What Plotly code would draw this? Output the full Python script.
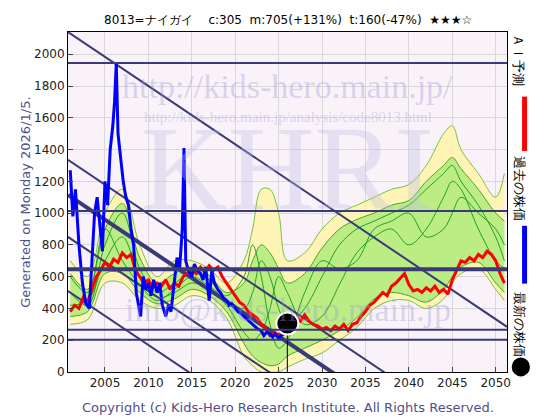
import plotly.graph_objects as go

# past price (blue)
past_years = [2001.0, 2001.3, 2001.6, 2002.0, 2002.4, 2002.8, 2003.2, 2003.5, 2003.8, 2004.1, 2004.4, 2004.7,
              2005.0, 2005.3, 2005.6, 2005.9, 2006.1, 2006.3, 2006.5, 2006.8, 2007.1, 2007.4, 2007.7, 2008.0,
              2008.3, 2008.6, 2008.9, 2009.1, 2009.4, 2009.7, 2010.0, 2010.3, 2010.6, 2011.0, 2011.3, 2011.6,
              2012.0, 2012.3, 2012.6, 2013.0, 2013.3, 2013.6, 2013.9, 2014.1, 2014.3, 2014.6, 2015.0, 2015.3,
              2015.6, 2016.0, 2016.3, 2016.6, 2017.0, 2017.3, 2017.6, 2018.0, 2018.3, 2018.6, 2019.0, 2019.3,
              2019.6, 2020.0, 2020.3, 2020.6, 2021.0, 2021.3, 2021.6, 2022.0, 2022.3, 2022.6, 2023.0, 2023.3,
              2023.6, 2024.0, 2024.3, 2024.6, 2025.0, 2025.3, 2025.6]
past_price = [1270, 980, 1150, 800, 560, 430, 400, 700, 1000, 1100, 950, 760,
              1200, 1050, 1400, 1550, 1700, 1940, 1500, 1350, 1200, 1100, 1050, 900,
              800, 500, 420, 350, 600, 520, 560, 480, 580, 500, 560, 420,
              350, 420, 380, 600, 720, 650, 900, 1410, 700, 640, 600, 680,
              640, 620, 580, 660, 450, 640, 560, 520, 500, 470, 450, 420,
              430, 400, 380, 370, 350, 340, 320, 300, 290, 270, 260, 230,
              250, 240, 220, 240, 210, 230, 240]

latest_year = [2026.0]
latest_price = [305]

# AI forecast (red)
ai_years = [2001, 2001.5, 2002, 2002.5, 2003, 2003.5, 2004, 2004.5, 2005, 2005.5, 2006, 2006.5, 2007, 2007.5,
            2008, 2008.5, 2009, 2009.5, 2010, 2010.5, 2011, 2011.5, 2012, 2012.5, 2013, 2013.5, 2014, 2014.5,
            2015, 2015.5, 2016, 2016.5, 2017, 2017.5, 2018, 2018.5, 2019, 2019.5, 2020, 2020.5, 2021, 2021.5,
            2022, 2022.5, 2023, 2023.5, 2024, 2024.5, 2025, 2025.5, 2026, 2026.5, 2027, 2027.5, 2028, 2028.5,
            2029, 2029.5, 2030, 2030.5, 2031, 2031.5, 2032, 2032.5, 2033, 2033.5, 2034, 2034.5, 2035, 2035.5,
            2036, 2036.5, 2037, 2037.5, 2038, 2038.5, 2039, 2039.5, 2040, 2040.5, 2041, 2041.5, 2042, 2042.5,
            2043, 2043.5, 2044, 2044.5, 2045, 2045.5, 2046, 2046.5, 2047, 2047.5, 2048, 2048.5, 2049, 2049.5,
            2050, 2050.5, 2051]
ai_price = [380, 420, 400, 470, 440, 520, 600, 640, 690, 660, 710, 690, 750, 720, 740, 640, 600, 560, 580, 530,
            560, 540, 580, 520, 560, 540, 600, 620, 650, 620, 660, 630, 670, 640, 660, 600, 560, 520, 480, 440,
            420, 380, 360, 340, 300, 280, 230, 250, 230, 270, 290, 330, 350, 320, 360, 320, 300, 290, 270, 280,
            260, 290, 270, 300, 260, 300, 310, 350, 380, 420, 440, 470, 500, 480, 540, 560, 590, 620, 550, 510,
            520, 500, 530, 510, 540, 500, 520, 490, 580, 640, 700, 690, 720, 700, 740, 720, 760, 740, 700, 620, 560]

# prediction bands
band_years = [2001, 2003, 2005, 2007, 2009, 2011, 2013, 2015, 2017, 2019, 2021, 2022, 2023, 2024, 2025, 2026,
              2028, 2030, 2032, 2034, 2036, 2038, 2040, 2042, 2044, 2045, 2046, 2048, 2050, 2051]
outer_hi = [700, 600, 1000, 1150, 800, 600, 700, 700, 650, 560, 700, 900, 1150, 1150, 1000, 700,
            750, 900, 1000, 1050, 1100, 1150, 1180, 1300, 1500, 1550, 1400, 1250, 1100, 1250]
outer_lo = [300, 330, 560, 560, 450, 400, 420, 480, 450, 340, 100, 40, 0, 0, 0, 30,
            80, 120, 200, 280, 400, 450, 450, 400, 460, 560, 620, 650, 520, 450]
inner_hi = [620, 520, 900, 1060, 720, 560, 620, 660, 610, 500, 560, 700, 800, 750, 650, 560,
            620, 780, 900, 960, 1000, 1050, 1080, 1200, 1300, 1350, 1280, 1150, 1000, 950]
inner_lo = [350, 380, 620, 620, 500, 430, 460, 520, 480, 380, 180, 100, 60, 40, 50, 100,
            150, 200, 260, 340, 460, 500, 480, 440, 520, 600, 660, 690, 560, 500]
green_a = [500, 420, 800, 1000, 650, 500, 560, 620, 580, 450, 400, 500, 700, 600, 400, 300,
           400, 600, 800, 900, 950, 1000, 1050, 1150, 1250, 1300, 1200, 1050, 850, 700]
green_b = [420, 450, 700, 850, 600, 470, 500, 560, 520, 420, 250, 200, 250, 400, 600, 500,
           300, 350, 550, 750, 850, 900, 800, 900, 1100, 1200, 1150, 900, 700, 650]
green_c = [600, 500, 900, 700, 550, 450, 520, 600, 540, 480, 600, 800, 600, 300, 150, 200,
           500, 700, 650, 700, 900, 950, 1000, 850, 900, 1000, 1100, 1000, 900, 800]

# trend lines
hlines = [1945, 1013, 646, 266, 203]
hline_widths = [2, 2, 4, 2, 2]
diag_start = [2140, 1335, 1115, 850, 510]
diag_widths = [2, 2, 4, 2, 2]
diag_slope = -36.7

x0, x1 = 2000.74, 2051.3
fig = go.Figure()
navy = "#3a3a78"
for v, w in zip(hlines, hline_widths):
    fig.add_hline(y=v, line=dict(color=navy, width=w))

fig.add_trace(go.Scatter(x=band_years, y=outer_hi, mode="lines", line=dict(color="#7bc043", width=1, shape="spline")))
fig.add_trace(go.Scatter(x=band_years, y=outer_lo, mode="lines", fill="tonexty", fillcolor="rgba(255,245,170,0.85)",
                         line=dict(color="#7bc043", width=1, shape="spline")))
fig.add_trace(go.Scatter(x=band_years, y=inner_hi, mode="lines", line=dict(color="#44aa22", width=1, shape="spline")))
fig.add_trace(go.Scatter(x=band_years, y=inner_lo, mode="lines", fill="tonexty", fillcolor="rgba(170,235,120,0.8)",
                         line=dict(color="#44aa22", width=1, shape="spline")))
for g in (green_a, green_b, green_c):
    fig.add_trace(go.Scatter(x=band_years, y=g, mode="lines", line=dict(color="#22a022", width=1, shape="spline")))

for b, w in zip(diag_start, diag_widths):
    fig.add_trace(go.Scatter(x=[x0, x1], y=[b, b + diag_slope * (x1 - x0)], mode="lines",
                             line=dict(color=navy, width=w)))

fig.add_trace(go.Scatter(x=ai_years, y=ai_price, mode="lines", line=dict(color="#ff0000", width=3)))
fig.add_trace(go.Scatter(x=past_years, y=past_price, mode="lines", line=dict(color="#0000ff", width=3)))
fig.add_trace(go.Scatter(x=latest_year * 2, y=[0, latest_price[0]], mode="lines", line=dict(color="black", width=1)))
fig.add_trace(go.Scatter(x=latest_year, y=latest_price, mode="markers",
                         marker=dict(color="black", size=22, line=dict(color="white", width=2))))

wm = "rgba(150,150,220,0.35)"
ann = [
    dict(text="KHRI", x=0.5, y=0.6, font=dict(size=120, color="rgba(190,190,230,0.35)", family="Liberation Serif")),
    dict(text="http://kids-hero.main.jp/", x=0.5, y=0.9, font=dict(size=34, color=wm, family="Liberation Serif")),
    dict(text="http://kids-hero.main.jp/analysis/code8013.html", x=0.5, y=0.78,
         font=dict(size=15, color=wm, family="Liberation Serif")),
    dict(text="info@kids-hero.main.jp", x=0.5, y=0.12, font=dict(size=34, color=wm, family="Liberation Serif")),
]
annotations = [dict(a, xref="paper", yref="paper", showarrow=False) for a in ann]
annotations += [
    dict(text="8013=ナイガイ　 c:305  m:705(+131%)  t:160(-47%)  ★★★☆", xref="paper", yref="paper",
         x=0.5, y=1.01, yanchor="bottom", showarrow=False, font=dict(size=12, color="black")),
    dict(text="Generated on Monday 2026/1/5.", xref="paper", yref="paper", x=-0.12, y=0.5,
         textangle=-90, showarrow=False, font=dict(size=13, color="#50508a")),
    dict(text="Copyright (c) Kids-Hero Research Institute. All Rights Reserved.", xref="paper", yref="paper",
         x=0.5, y=-0.075, yanchor="top", showarrow=False, font=dict(size=13, color="#50508a")),
    dict(text="ＡＩ予測", xref="paper", yref="paper", x=1.05, y=1.0, yanchor="top", textangle=90,
         showarrow=False, font=dict(size=13, color="black")),
    dict(text="過去の株価", xref="paper", yref="paper", x=1.05, y=0.64, yanchor="top", textangle=90,
         showarrow=False, font=dict(size=13, color="black")),
    dict(text="最新の株価", xref="paper", yref="paper", x=1.05, y=0.24, yanchor="top", textangle=90,
         showarrow=False, font=dict(size=13, color="black")),
]
fig.add_shape(type="line", xref="paper", yref="paper", x0=1.04, x1=1.04, y0=0.65, y1=0.81,
              line=dict(color="red", width=5))
fig.add_shape(type="line", xref="paper", yref="paper", x0=1.04, x1=1.04, y0=0.26, y1=0.43,
              line=dict(color="blue", width=5))
fig.add_shape(type="circle", xref="paper", yref="paper", x0=1.013, x1=1.05, y0=-0.01, y1=0.04,
              fillcolor="black", line=dict(color="black"))

fig.update_layout(
    width=560, height=420, margin=dict(l=60, r=61, t=24, b=56),
    paper_bgcolor="white", plot_bgcolor="#f9f2f8", showlegend=False,
    annotations=annotations, font=dict(family="DejaVu Sans", size=12, color="black"),
)
fig.update_xaxes(range=[x0, x1], tickvals=[2005, 2010, 2015, 2020, 2025, 2030, 2035, 2040, 2045, 2050],
                 showgrid=True, gridcolor="#d8d8d8", ticks="inside", zeroline=False,
                 mirror=True, showline=True, linecolor="black", tickfont=dict(color="#222"))
fig.update_yaxes(range=[0, 2140], dtick=200, showgrid=True, gridcolor="#d8d8d8", ticks="inside", zeroline=False,
                 mirror=True, showline=True, linecolor="black", tickfont=dict(color="#222"))
fig.write_html("out.html")
